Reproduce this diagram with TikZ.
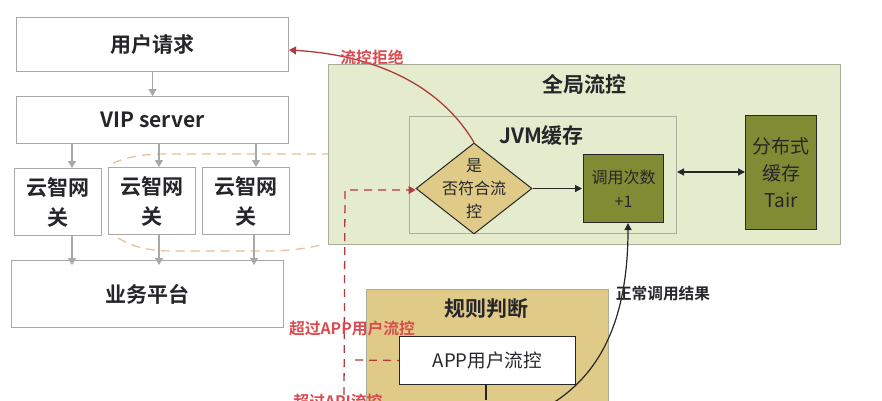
\documentclass[tikz,border=0pt]{standalone}
\usepackage{fontspec}
\setmainfont{Noto Sans CJK SC}
\newfontfamily\cjkbold{Noto Sans CJK SC Bold}
\usetikzlibrary{arrows.meta,shapes.geometric}
\definecolor{ink}{HTML}{26262A}
\definecolor{greybox}{HTML}{A8A8A8}
\definecolor{greenfill}{HTML}{E5ECCD}
\definecolor{greenedge}{HTML}{A9AE9C}
\definecolor{goldfill}{HTML}{E0CA88}
\definecolor{olive}{HTML}{7F8C33}
\definecolor{redline}{HTML}{B23A3A}
\definecolor{redtext}{HTML}{DB4A4F}
\definecolor{dashorange}{HTML}{E3BE98}
\newcommand{\boxat}[6][]{\node[#2,anchor=north west,minimum width=#5pt-#3pt,minimum height=#6pt-#4pt,#1] at (#3,-#4)}
\tikzset{
  x=1pt,y=1pt,
  plain/.style={draw=greybox,line width=1pt,fill=white,inner sep=0pt,text=ink,align=center,font=\cjkbold\fontsize{21}{30}\selectfont},
  graylink/.style={draw=greybox,line width=1.2pt,-{Triangle[length=7pt,width=8pt]}},
  blacklink/.style={draw=ink,line width=1.2pt,-{Triangle[length=7pt,width=7pt]}},
  panel/.style={draw=greenedge,line width=1pt,fill=greenfill},
  olivebox/.style={draw=ink,line width=1pt,fill=olive,inner sep=0pt,text=ink,align=center},
  redlink/.style={draw=redline,line width=1.3pt},
  redlabel/.style={text=redtext,inner sep=0pt,font=\cjkbold\fontsize{15.8}{18}\selectfont},
  heading/.style={text=ink,inner sep=0pt,font=\cjkbold\fontsize{21}{24}\selectfont},
  orangedash/.style={draw=dashorange,line width=1.2pt,dash pattern=on 9pt off 6pt},
}
\begin{document}
\begin{tikzpicture}
\useasboundingbox (0,-400) rectangle (882,0);
\clip (0,-400) rectangle (882,0);
% panels
\boxat{panel}{328}{64}{840}{244} (global) {};
\boxat{panel}{409}{116}{676}{233} (jvm) {};
\boxat{panel,fill=goldfill}{366}{289}{608}{420} (rule) {};
\node[heading] (globalT) at (584.5,-84) {全局流控};
\node[heading] (jvmT) at (541.5,-136) {JVM缓存};
\node[heading] (ruleT) at (486,-309) {规则判断};
% left column
\boxat{plain}{16}{17}{288}{71} (user) {用户请求};
\boxat{plain}{16}{96}{288}{143} (vip) {VIP server};
\boxat{plain}{14}{168}{101}{235} (g1) {云智网\\关};
\boxat{plain}{108}{167}{195}{234} (g2) {云智网\\关};
\boxat{plain}{202}{167}{289}{234} (g3) {云智网\\关};
\boxat{plain}{11}{260}{283}{327} (biz) {业务平台};
% orange dashed outline
\coordinate (dashTopL) at (113,-163);
\coordinate (dashBotL) at (118,-238);
\coordinate (dashBotR) at (320,-245);
\draw[orangedash] (dashTopL) .. controls (130,-156) and (145,-154) .. (170,-154) -- (global.west |- 0,-154);
\draw[orangedash] (dashBotL) .. controls (135,-248) and (150,-251) .. (175,-251) -- (265,-251) .. controls (285,-251) and (305,-249) .. (dashBotR);
% grey arrows
\coordinate (xa) at (72,0);
\coordinate (xb) at (159,0);
\coordinate (xc) at (256,0);
\coordinate (xd) at (254,0);
\draw[graylink] (user.south) -- (vip.north);
\draw[graylink] (vip.south -| xa) -- (g1.north -| xa);
\draw[graylink] (vip.south -| xb) -- (g2.north -| xb);
\draw[graylink] (vip.south -| xc) -- (g3.north -| xc);
\draw[graylink,shorten >=-5pt] (g1.south -| xa) -- (biz.north -| xa);
\draw[graylink,shorten >=-5pt] (g2.south -| xb) -- (biz.north -| xb);
\draw[graylink,shorten >=-5pt] (g3.south -| xd) -- (biz.north -| xd);
% diamond
\node[diamond,draw=ink,line width=1pt,fill=goldfill,inner sep=0pt,minimum width=116pt,minimum height=91pt] (dec) at (474,-188.5) {};
\node[text=ink,align=center,inner sep=0pt,font=\fontsize{16}{23}\selectfont] (dtext) at (dec.center) {是\\否符合流\\控};
% olive boxes
\boxat[font=\fontsize{16}{24}\selectfont]{olivebox}{583}{154}{663}{222} (count) {调用次数\\+1};
\boxat[font=\fontsize{19}{27}\selectfont]{olivebox}{745}{115}{816}{229} (tair) {分布式\\缓存\\Tair};
\boxat[font=\fontsize{18.6}{24}\selectfont,draw=ink,line width=1pt,fill=white,inner sep=0pt,text=ink]{}{399}{336}{575}{384} (app) {APP用户流控};
% black connectors
\draw[blacklink,shorten >=1pt] (dec.east) -- (count.west);
\draw[draw=ink,line width=1.2pt,{Triangle[length=7pt,width=7pt]}-{Triangle[length=7pt,width=7pt]}] (jvm.east |- 0,-172) -- (tair.west |- 0,-172);
\coordinate (appDown) at (486,-400);
\draw[draw=ink,line width=1.2pt] (app.south -| appDown) -- (appDown);
\coordinate (curveStart) at (553,-403);
\draw[blacklink] (curveStart) .. controls (597,-375) and (628,-325) .. (count.south -| 628,0);
% red connectors
\draw[redlink,-{Triangle[length=7pt,width=8pt]}] (dec.north) .. controls (440,-85) and (375,-55) .. (user.east |- 0,-50);
\coordinate (dashCorner) at (345,-190);
\coordinate (dashBottom) at (344,-395);
\draw[redlink,dash pattern=on 8pt off 6pt,-{Triangle[length=7pt,width=8pt]}] (dashBottom) -- (dashCorner) -- (dec.west |- dashCorner);
\coordinate (dashAppEnd) at (355,-360);
\draw[redlink,dash pattern=on 8pt off 6pt] (dashAppEnd) -- (app.west);
% red labels
\node[redlabel] (lbReject) at (372,-57) {流控拒绝};
\node[redlabel] (lbApp) at (352,-329) {超过APP用户流控};
\node[redlabel] (lbApi) at (338,-401) {超过API流控};
\node[inner sep=0pt,text=ink,font=\cjkbold\fontsize{15.7}{18}\selectfont] (lbOk) at (663,-294) {正常调用结果};
\end{tikzpicture}
\end{document}
